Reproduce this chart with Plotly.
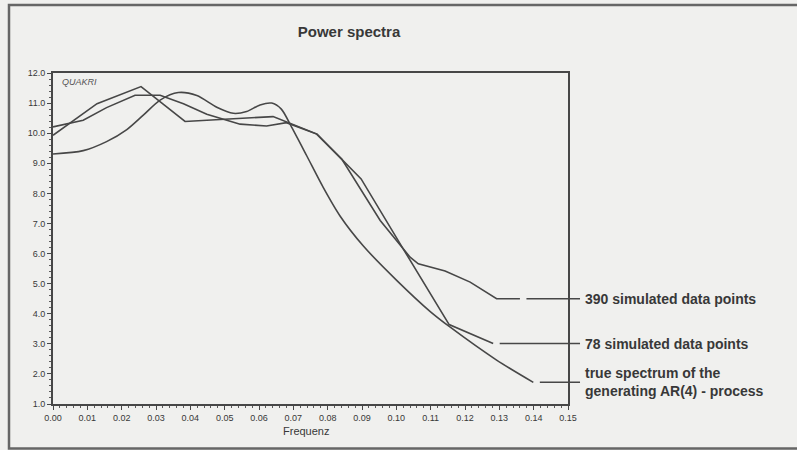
import plotly.graph_objects as go

# Frequency grid and spectral estimates
freq_390 = [0.0, 0.0088, 0.0156, 0.0239, 0.0312, 0.038, 0.0448, 0.0545, 0.0622, 0.068,
            0.0768, 0.0841, 0.0953, 0.1040, 0.1064, 0.1142, 0.1215, 0.1292, 0.136]
spec_390 = [10.21, 10.43, 10.85, 11.26, 11.26, 10.98, 10.63, 10.30, 10.24, 10.35,
            9.97, 9.14, 7.10, 5.88, 5.66, 5.42, 5.05, 4.50, 4.50]

freq_78 = [k / 78 for k in range(11)]
spec_78 = [9.93, 10.98, 11.55, 10.39, 10.47, 10.55, 9.97, 8.48, 6.05, 3.64, 3.01]

freq_true = [0.0, 0.0088, 0.0156, 0.0215, 0.0263, 0.0312, 0.0365, 0.0419, 0.0477, 0.0525,
             0.0564, 0.0603, 0.0637, 0.0665, 0.0695, 0.0739, 0.0787, 0.0836, 0.0904,
             0.1001, 0.1098, 0.1156, 0.1292, 0.1399]
spec_true = [9.31, 9.42, 9.72, 10.12, 10.60, 11.10, 11.35, 11.25, 10.86, 10.66,
             10.72, 10.94, 11.0, 10.80, 10.20, 9.25, 8.20, 7.25, 6.25,
             5.11, 4.08, 3.56, 2.46, 1.72]

series_labels = ["390 simulated data points", "78 simulated data points",
                 "true spectrum of the<br>generating AR(4) - process"]
x_ticks = [round(0.01 * i, 2) for i in range(16)]
y_ticks = list(range(1, 13))

X_MIN, X_MAX = 0.0, 0.15
Y_MIN, Y_MAX = 1.0, 12.0

BG = "#f0f0ee"
INK = "#383838"
LINE = "#474747"
FONT = "Liberation Sans, Arial, sans-serif"

fig = go.Figure()
fig.add_trace(go.Scatter(x=freq_390, y=spec_390, mode="lines",
                         line=dict(color=LINE, width=1.6), showlegend=False))
fig.add_trace(go.Scatter(x=freq_78, y=spec_78, mode="lines",
                         line=dict(color=LINE, width=1.6), showlegend=False))
fig.add_trace(go.Scatter(x=freq_true, y=spec_true, mode="lines",
                         line=dict(color=LINE, width=1.6, shape="spline", smoothing=0.8),
                         showlegend=False))


def px(xv):
    return (xv - X_MIN) / (X_MAX - X_MIN)


def py(yv):
    return (yv - Y_MIN) / (Y_MAX - Y_MIN)


# leader lines from each curve end to its label
ends = [(freq_390[-1], spec_390[-1]), (freq_78[-1], spec_78[-1]), (freq_true[-1], spec_true[-1])]
label_x = 0.1545
shapes = []
for (xe, ye), lab in zip(ends, series_labels):
    shapes.append(dict(type="line", xref="paper", yref="paper",
                       x0=px(xe + 0.0019), x1=px(0.1535), y0=py(ye), y1=py(ye),
                       line=dict(color=LINE, width=1.5)))

# outer frame
shapes.append(dict(type="rect", xref="paper", yref="paper",
                   x0=(9 - 53) / 515, x1=1.5, y0=(404 - 448.5) / 331, y1=(404 - 5) / 331,
                   line=dict(color="#666666", width=2.5), fillcolor="rgba(0,0,0,0)",
                   layer="below"))

annotations = []
for (xe, ye), lab in zip(ends, series_labels):
    annotations.append(dict(x=px(label_x), y=py(ye), xref="paper", yref="paper",
                            text=lab, showarrow=False, xanchor="left", yanchor="middle",
                            align="left",
                            font=dict(family=FONT, size=14, color=INK, weight="bold")))
annotations.append(dict(x=(60 - 53) / 515, y=(404 - 81.7) / 331, xref="paper", yref="paper",
                        text="<i>QUAKRI</i>", showarrow=False, xanchor="left", yanchor="middle",
                        font=dict(family=FONT, size=9, color="#555555")))
annotations.append(dict(x=(306 - 53) / 515, y=(404 - 431) / 331, xref="paper", yref="paper",
                        text="Frequenz", showarrow=False, xanchor="center", yanchor="middle",
                        font=dict(family=FONT, size=11, color=INK)))

axis_common = dict(showgrid=False, zeroline=False, showline=True, linecolor="#474747",
                   linewidth=2, mirror=True, ticks="outside", ticklen=4, tickwidth=1.2,
                   tickcolor="#474747", tickfont=dict(family=FONT, size=9, color=INK))

fig.update_layout(
    width=797, height=450,
    margin=dict(l=53, r=229, t=73, b=46),
    paper_bgcolor=BG, plot_bgcolor=BG,
    title=dict(text="<b>Power spectra</b>", x=349 / 797, y=1 - 32 / 450,
               xanchor="center", yanchor="middle",
               font=dict(family=FONT, size=15, color=INK)),
    xaxis=dict(range=[X_MIN, X_MAX], tickvals=x_ticks,
               ticktext=[f"{v:.2f}" for v in x_ticks],
               minor=dict(dtick=0.002, ticklen=2, tickcolor="#5a5a5a", ticks="outside"),
               **axis_common),
    yaxis=dict(range=[Y_MIN, Y_MAX], tickvals=y_ticks,
               ticktext=[f"{v:.1f}" for v in y_ticks],
               minor=dict(dtick=0.2, ticklen=2, tickcolor="#5a5a5a", ticks="outside"),
               **axis_common),
    shapes=shapes,
    annotations=annotations,
)

fig.write_html("out.html")
